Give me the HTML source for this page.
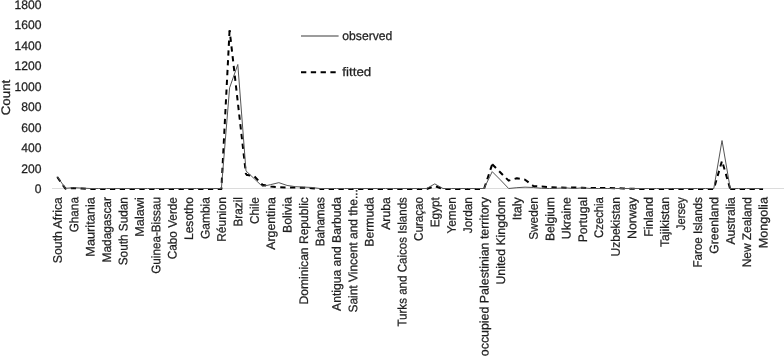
<!DOCTYPE html>
<html><head><meta charset="utf-8"><title>chart</title>
<style>
html,body{margin:0;padding:0;background:#fff;width:784px;height:356px;overflow:hidden}
svg{display:block;will-change:transform;filter:blur(0.3px)}
text{font-family:"Liberation Sans",sans-serif;fill:#1e1e1e;stroke:#1e1e1e;stroke-width:0.25px;text-rendering:geometricPrecision}
</style></head><body>
<svg width="784" height="356" viewBox="0 0 784 356">
<rect width="784" height="356" fill="#fff"/>

<text x="41.6" y="192.95" font-size="12.4" text-anchor="end" textLength="6.76" lengthAdjust="spacingAndGlyphs">0</text>
<text x="41.6" y="172.51" font-size="12.4" text-anchor="end" textLength="20.27" lengthAdjust="spacingAndGlyphs">200</text>
<text x="41.6" y="152.06" font-size="12.4" text-anchor="end" textLength="20.27" lengthAdjust="spacingAndGlyphs">400</text>
<text x="41.6" y="131.62" font-size="12.4" text-anchor="end" textLength="20.27" lengthAdjust="spacingAndGlyphs">600</text>
<text x="41.6" y="111.17" font-size="12.4" text-anchor="end" textLength="20.27" lengthAdjust="spacingAndGlyphs">800</text>
<text x="41.6" y="90.73" font-size="12.4" text-anchor="end" textLength="27.03" lengthAdjust="spacingAndGlyphs">1000</text>
<text x="41.6" y="70.28" font-size="12.4" text-anchor="end" textLength="27.03" lengthAdjust="spacingAndGlyphs">1200</text>
<text x="41.6" y="49.84" font-size="12.4" text-anchor="end" textLength="27.03" lengthAdjust="spacingAndGlyphs">1400</text>
<text x="41.6" y="29.39" font-size="12.4" text-anchor="end" textLength="27.03" lengthAdjust="spacingAndGlyphs">1600</text>
<text x="41.6" y="8.95" font-size="12.4" text-anchor="end" textLength="27.03" lengthAdjust="spacingAndGlyphs">1800</text>
<text transform="translate(10.0,97.5) rotate(-90)" font-size="12.4" text-anchor="middle" textLength="35.5" lengthAdjust="spacingAndGlyphs">Count</text>
<line x1="52" y1="188.5" x2="784" y2="188.5" stroke="#dcdcdc" stroke-width="1"/>
<text transform="translate(61.75,197.1) rotate(-89.97)" font-size="12.4" text-anchor="end" textLength="66.05" lengthAdjust="spacingAndGlyphs">South Africa</text>
<text transform="translate(78.16,197.1) rotate(-89.97)" font-size="12.4" text-anchor="end" textLength="35.19" lengthAdjust="spacingAndGlyphs">Ghana</text>
<text transform="translate(94.58,197.1) rotate(-89.97)" font-size="12.4" text-anchor="end" textLength="59.64" lengthAdjust="spacingAndGlyphs">Mauritania</text>
<text transform="translate(110.99,197.1) rotate(-89.97)" font-size="12.4" text-anchor="end" textLength="65.37" lengthAdjust="spacingAndGlyphs">Madagascar</text>
<text transform="translate(127.41,197.1) rotate(-89.97)" font-size="12.4" text-anchor="end" textLength="68.18" lengthAdjust="spacingAndGlyphs">South Sudan</text>
<text transform="translate(143.82,197.1) rotate(-89.97)" font-size="12.4" text-anchor="end" textLength="39.73" lengthAdjust="spacingAndGlyphs">Malawi</text>
<text transform="translate(160.23,197.1) rotate(-89.97)" font-size="12.4" text-anchor="end" textLength="76.72" lengthAdjust="spacingAndGlyphs">Guinea-Bissau</text>
<text transform="translate(176.65,197.1) rotate(-89.97)" font-size="12.4" text-anchor="end" textLength="62.19" lengthAdjust="spacingAndGlyphs">Cabo Verde</text>
<text transform="translate(193.06,197.1) rotate(-89.97)" font-size="12.4" text-anchor="end" textLength="42.99" lengthAdjust="spacingAndGlyphs">Lesotho</text>
<text transform="translate(209.48,197.1) rotate(-89.97)" font-size="12.4" text-anchor="end" textLength="41.90" lengthAdjust="spacingAndGlyphs">Gambia</text>
<text transform="translate(225.89,197.1) rotate(-89.97)" font-size="12.4" text-anchor="end" textLength="44.75" lengthAdjust="spacingAndGlyphs">Réunion</text>
<text transform="translate(242.30,197.1) rotate(-89.97)" font-size="12.4" text-anchor="end" textLength="29.40" lengthAdjust="spacingAndGlyphs">Brazil</text>
<text transform="translate(258.72,197.1) rotate(-89.97)" font-size="12.4" text-anchor="end" textLength="26.87" lengthAdjust="spacingAndGlyphs">Chile</text>
<text transform="translate(275.13,197.1) rotate(-89.97)" font-size="12.4" text-anchor="end" textLength="52.68" lengthAdjust="spacingAndGlyphs">Argentina</text>
<text transform="translate(291.55,197.1) rotate(-89.97)" font-size="12.4" text-anchor="end" textLength="35.87" lengthAdjust="spacingAndGlyphs">Bolivia</text>
<text transform="translate(307.96,197.1) rotate(-89.97)" font-size="12.4" text-anchor="end" textLength="107.35" lengthAdjust="spacingAndGlyphs">Dominican Republic</text>
<text transform="translate(324.37,197.1) rotate(-89.97)" font-size="12.4" text-anchor="end" textLength="49.28" lengthAdjust="spacingAndGlyphs">Bahamas</text>
<text transform="translate(340.79,197.1) rotate(-89.97)" font-size="12.4" text-anchor="end" textLength="113.81" lengthAdjust="spacingAndGlyphs">Antigua and Barbuda</text>
<text transform="translate(357.20,189.1) rotate(-89.97)" font-size="12.4" text-anchor="end" textLength="123.50" lengthAdjust="spacingAndGlyphs">Saint Vincent and the...</text>
<text transform="translate(373.62,197.1) rotate(-89.97)" font-size="12.4" text-anchor="end" textLength="49.58" lengthAdjust="spacingAndGlyphs">Bermuda</text>
<text transform="translate(390.03,197.1) rotate(-89.97)" font-size="12.4" text-anchor="end" textLength="32.76" lengthAdjust="spacingAndGlyphs">Aruba</text>
<text transform="translate(406.44,197.1) rotate(-89.97)" font-size="12.4" text-anchor="end" textLength="129.49" lengthAdjust="spacingAndGlyphs">Turks and Caicos Islands</text>
<text transform="translate(422.86,197.1) rotate(-89.97)" font-size="12.4" text-anchor="end" textLength="43.82" lengthAdjust="spacingAndGlyphs">Curaçao</text>
<text transform="translate(439.27,197.1) rotate(-89.97)" font-size="12.4" text-anchor="end" textLength="30.23" lengthAdjust="spacingAndGlyphs">Egypt</text>
<text transform="translate(455.69,197.1) rotate(-89.97)" font-size="12.4" text-anchor="end" textLength="36.46" lengthAdjust="spacingAndGlyphs">Yemen</text>
<text transform="translate(472.10,197.1) rotate(-89.97)" font-size="12.4" text-anchor="end" textLength="36.14" lengthAdjust="spacingAndGlyphs">Jordan</text>
<text transform="translate(488.51,197.1) rotate(-89.97)" font-size="12.4" text-anchor="end" textLength="159.11" lengthAdjust="spacingAndGlyphs">occupied Palestinian territory</text>
<text transform="translate(504.93,197.1) rotate(-89.97)" font-size="12.4" text-anchor="end" textLength="87.43" lengthAdjust="spacingAndGlyphs">United Kingdom</text>
<text transform="translate(521.34,197.1) rotate(-89.97)" font-size="12.4" text-anchor="end" textLength="23.14" lengthAdjust="spacingAndGlyphs">Italy</text>
<text transform="translate(537.76,197.1) rotate(-89.97)" font-size="12.4" text-anchor="end" textLength="42.71" lengthAdjust="spacingAndGlyphs">Sweden</text>
<text transform="translate(554.17,197.1) rotate(-89.97)" font-size="12.4" text-anchor="end" textLength="43.94" lengthAdjust="spacingAndGlyphs">Belgium</text>
<text transform="translate(570.58,197.1) rotate(-89.97)" font-size="12.4" text-anchor="end" textLength="42.08" lengthAdjust="spacingAndGlyphs">Ukraine</text>
<text transform="translate(587.00,197.1) rotate(-89.97)" font-size="12.4" text-anchor="end" textLength="45.25" lengthAdjust="spacingAndGlyphs">Portugal</text>
<text transform="translate(603.41,197.1) rotate(-89.97)" font-size="12.4" text-anchor="end" textLength="40.80" lengthAdjust="spacingAndGlyphs">Czechia</text>
<text transform="translate(619.83,197.1) rotate(-89.97)" font-size="12.4" text-anchor="end" textLength="59.34" lengthAdjust="spacingAndGlyphs">Uzbekistan</text>
<text transform="translate(636.24,197.1) rotate(-89.97)" font-size="12.4" text-anchor="end" textLength="41.91" lengthAdjust="spacingAndGlyphs">Norway</text>
<text transform="translate(652.65,197.1) rotate(-89.97)" font-size="12.4" text-anchor="end" textLength="39.65" lengthAdjust="spacingAndGlyphs">Finland</text>
<text transform="translate(669.07,197.1) rotate(-89.97)" font-size="12.4" text-anchor="end" textLength="49.97" lengthAdjust="spacingAndGlyphs">Tajikistan</text>
<text transform="translate(685.48,197.1) rotate(-89.97)" font-size="12.4" text-anchor="end" textLength="33.10" lengthAdjust="spacingAndGlyphs">Jersey</text>
<text transform="translate(701.90,197.1) rotate(-89.97)" font-size="12.4" text-anchor="end" textLength="70.51" lengthAdjust="spacingAndGlyphs">Faroe Islands</text>
<text transform="translate(718.31,197.1) rotate(-89.97)" font-size="12.4" text-anchor="end" textLength="56.61" lengthAdjust="spacingAndGlyphs">Greenland</text>
<text transform="translate(734.72,197.1) rotate(-89.97)" font-size="12.4" text-anchor="end" textLength="47.52" lengthAdjust="spacingAndGlyphs">Australia</text>
<text transform="translate(751.14,197.1) rotate(-89.97)" font-size="12.4" text-anchor="end" textLength="70.24" lengthAdjust="spacingAndGlyphs">New Zealand</text>
<text transform="translate(767.55,197.1) rotate(-89.97)" font-size="12.4" text-anchor="end" textLength="51.16" lengthAdjust="spacingAndGlyphs">Mongolia</text>
<polyline transform="translate(0,0.5)" points="57.25,176.54 65.46,188.19 73.66,187.48 81.87,187.99 90.08,188.50 98.28,188.50 106.49,188.50 114.70,188.50 122.91,188.50 131.11,188.50 139.32,188.50 147.53,188.50 155.73,188.50 163.94,188.50 172.15,188.50 180.36,188.50 188.56,188.50 196.77,188.50 204.98,188.50 213.18,188.50 221.39,188.50 229.60,29.54" fill="none" stroke="#000" stroke-width="2.0" stroke-dasharray="5.3 4.5" stroke-dashoffset="0.0" stroke-linejoin="round"/>
<polyline transform="translate(0,0.5)" points="229.60,29.54 237.80,101.61 246.01,174.19" fill="none" stroke="#000" stroke-width="2.0" stroke-dasharray="5.3 4.5" stroke-dashoffset="3.2" stroke-linejoin="round"/>
<polyline transform="translate(0,0.5)" points="246.01,174.19 254.22,175.72 262.43,184.21 270.63,185.94 278.84,186.66 287.05,186.97 295.25,187.07 303.46,187.17 311.67,187.68 319.87,188.50" fill="none" stroke="#000" stroke-width="2.0" stroke-dasharray="5.3 4.5" stroke-dashoffset="1.0" stroke-linejoin="round"/>
<polyline transform="translate(0,0.5)" points="319.87,188.50 328.08,188.50 336.29,188.50 344.50,188.50 352.70,188.50 360.91,188.50 369.12,188.50 377.32,188.50 385.53,188.50 393.74,188.50 401.94,188.50 410.15,188.50 418.36,188.50 426.57,188.50 434.77,185.64 442.98,188.50 451.19,188.50 459.39,188.50 467.60,188.50 475.81,188.50 484.01,188.50 492.22,163.76" fill="none" stroke="#000" stroke-width="2.0" stroke-dasharray="5.3 4.5" stroke-dashoffset="1.0" stroke-linejoin="round"/>
<polyline transform="translate(0,0.5)" points="492.22,163.76 500.43,171.94 508.64,180.12 516.84,177.77 525.05,179.20 533.26,185.43 541.46,186.05 549.67,186.56 557.88,187.07 566.08,187.17 574.29,187.07 582.50,187.27 590.71,187.58 598.91,187.58" fill="none" stroke="#000" stroke-width="2.0" stroke-dasharray="5.3 4.5" stroke-dashoffset="0.0" stroke-linejoin="round"/>
<polyline transform="translate(0,0.5)" points="598.91,187.58 607.12,187.58 615.33,187.68 623.53,187.99 631.74,188.30 639.95,188.50 648.15,188.50 656.36,188.50 664.57,188.50 672.78,188.50 680.98,188.50 689.19,188.50 697.40,188.50 705.60,188.50 713.81,188.50 722.02,160.29 730.22,188.50" fill="none" stroke="#000" stroke-width="2.0" stroke-dasharray="5.3 4.5" stroke-dashoffset="8.7" stroke-linejoin="round"/>
<polyline transform="translate(0,0.5)" points="730.22,188.50 738.43,188.50 746.64,188.50 754.85,188.50 763.05,188.50" fill="none" stroke="#000" stroke-width="2.0" stroke-dasharray="5.3 4.5" stroke-dashoffset="0.3" stroke-linejoin="round"/>
<polyline points="57.25,176.54 65.46,188.30 73.66,187.68 81.87,188.09 90.08,188.50 98.28,188.50 106.49,188.50 114.70,188.50 122.91,188.50 131.11,188.50 139.32,188.50 147.53,188.50 155.73,188.50 163.94,188.50 172.15,188.50 180.36,188.50 188.56,188.50 196.77,188.50 204.98,188.50 213.18,188.50 221.39,188.50 229.60,87.81 237.80,64.50 246.01,170.92 254.22,178.69 262.43,186.46 270.63,184.62 278.84,182.67 287.05,185.43 295.25,186.66 303.46,187.07 311.67,187.48 319.87,188.50 328.08,188.50 336.29,188.50 344.50,188.50 352.70,188.50 360.91,188.50 369.12,188.50 377.32,188.50 385.53,188.50 393.74,188.50 401.94,188.50 410.15,188.50 418.36,188.50 426.57,188.50 434.77,183.90 442.98,188.50 451.19,188.50 459.39,188.50 467.60,188.50 475.81,188.50 484.01,188.50 492.22,171.63 500.43,179.91 508.64,188.50 516.84,187.68 525.05,187.17 533.26,187.48 541.46,188.30 549.67,188.50 557.88,188.19 566.08,187.89 574.29,188.50 582.50,187.78 590.71,188.50 598.91,188.50 607.12,188.50 615.33,188.50 623.53,188.50 631.74,188.50 639.95,188.50 648.15,188.50 656.36,188.50 664.57,188.50 672.78,188.50 680.98,188.50 689.19,188.50 697.40,188.50 705.60,188.50 713.81,188.50 722.02,140.56 730.22,188.50 738.43,188.50 746.64,188.50 754.85,188.50 763.05,188.50" fill="none" stroke="#555" stroke-width="1.0" stroke-linejoin="round"/>
<line x1="301" y1="36" x2="338.6" y2="36" stroke="#3a3a3a" stroke-width="1.2"/>
<text x="342.3" y="39.8" font-size="12.4" textLength="50.1" lengthAdjust="spacingAndGlyphs">observed</text>
<line x1="301" y1="72.2" x2="336" y2="72.2" stroke="#000" stroke-width="2.1" stroke-dasharray="5.3 4.5"/>
<text x="342.3" y="75.9" font-size="12.4" textLength="29" lengthAdjust="spacingAndGlyphs">fitted</text>
</svg>
</body></html>
